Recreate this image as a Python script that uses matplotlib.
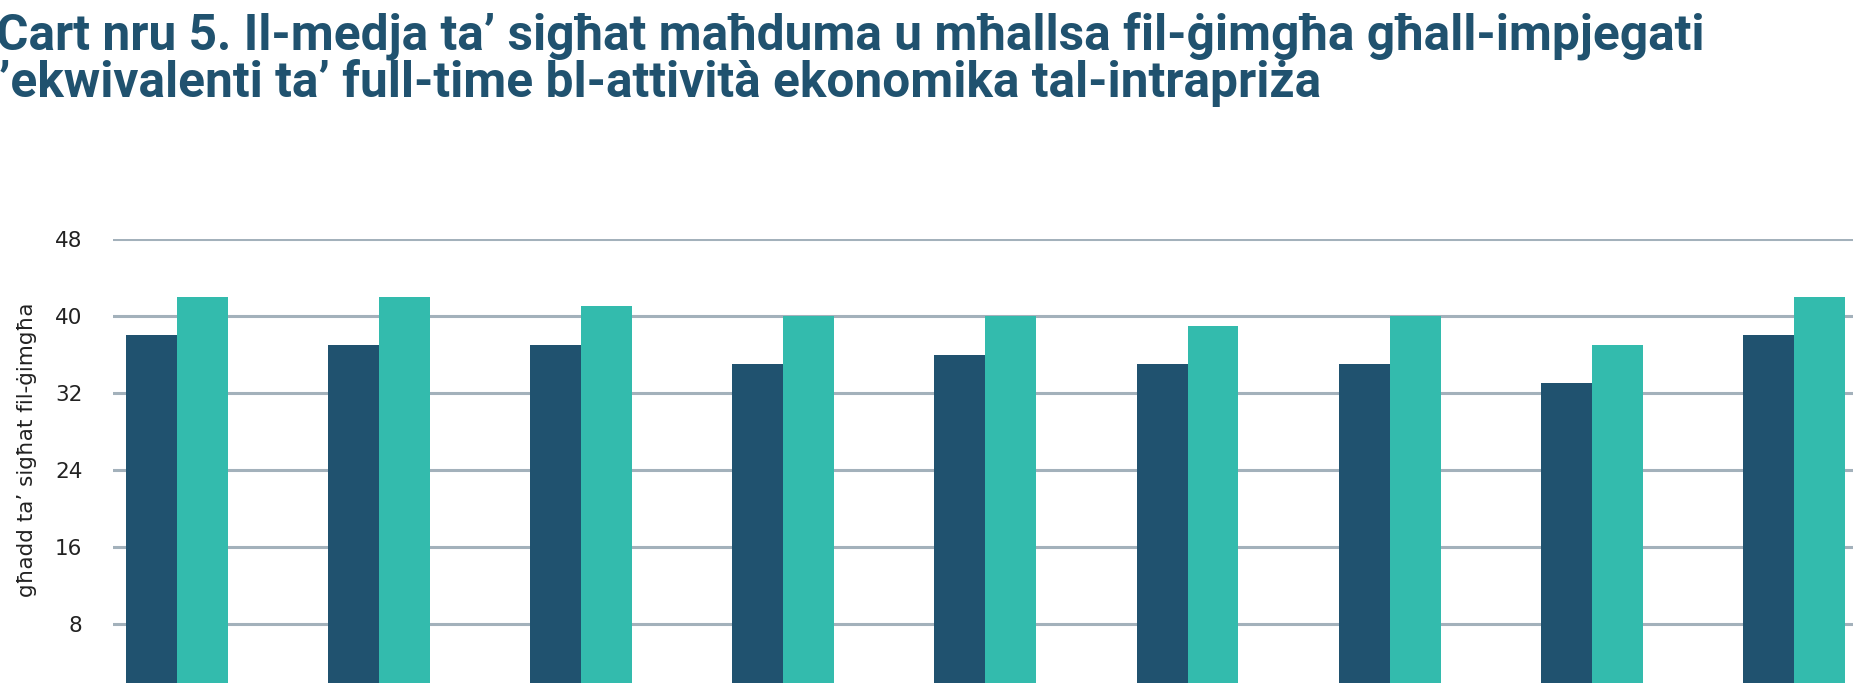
import matplotlib.pyplot as plt
import numpy as np

# values (hours per week)
groups = list(range(9))
dark_vals = [38, 37, 37, 35, 36, 35, 35, 33, 38]
teal_vals = [42, 42, 41, 40, 40, 39, 40, 37, 42]
yticks = [8, 16, 24, 32, 40, 48]

title_1 = "Cart nru 5. Il-medja ta’ sigħat maħduma u mħallsa fil-ġimgħa għall-impjegati"
title_2 = "’ekwivalenti ta’ full-time bl-attività ekonomika tal-intrapriża"
ylabel = "għadd ta’ sigħat fil-ġimgħa"

DARK = "#20526f"
TEAL = "#33bbad"
GRID = "#a3b1bb"

W, H = 1853, 683
fig = plt.figure(figsize=(W / 100, H / 100), dpi=100)

# axes run below the bottom edge, as in the cropped original
left, right, top, zero = 113, 1853, 239, 701
ax = fig.add_axes([left / W, (H - zero) / H, (right - left) / W, (zero - top) / H])

x = np.arange(len(groups))
bw = 0.252
ax.bar(x - bw / 2, dark_vals, bw, color=DARK, zorder=2)
ax.bar(x + bw / 2, teal_vals, bw, color=TEAL, zorder=2)

ax.set_xlim(-0.317, 8.293)
ax.set_ylim(0, 48)
ax.set_yticks(yticks)
ax.set_yticklabels([str(t) for t in yticks], fontsize=15.5, family="DejaVu Sans", color="#222222")
ax.tick_params(axis="y", length=0, pad=22)
ax.tick_params(axis="x", length=0, labelbottom=False)
ax.yaxis.grid(True, color=GRID, linewidth=2.2, zorder=0)
for s in ax.spines.values():
    s.set_visible(False)

fig.text(27 / W, 1 - 450 / H, ylabel, rotation=90, ha="center", va="center",
         fontsize=15.5, family="DejaVu Sans", color="#222222")

fig.text(-4 / W, 1 - 50 / H, title_1, ha="left", va="baseline",
         fontsize=35.7, family="Roboto", weight="bold", color="#20526f")
fig.text(-1 / W, 1 - 97 / H, title_2, ha="left", va="baseline",
         fontsize=35.7, family="Roboto", weight="bold", color="#20526f")

fig.savefig("out.png", dpi=100)
